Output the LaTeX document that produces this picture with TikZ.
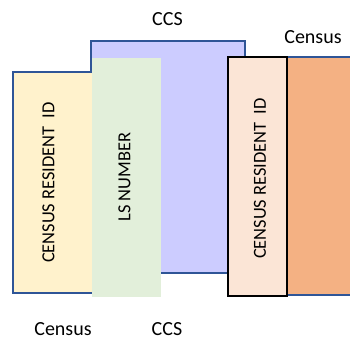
\documentclass[tikz,border=0pt]{standalone}
\usepackage{fontspec}
\setmainfont{Carlito}
\definecolor{edgeblue}{RGB}{47,85,151}
\definecolor{ccsfill}{RGB}{204,204,255}
\definecolor{yellowfill}{RGB}{255,242,204}
\definecolor{greenfill}{RGB}{226,239,218}
\definecolor{orangefill}{RGB}{244,177,131}
\definecolor{pinkfill}{RGB}{251,229,214}
\begin{document}
\begin{tikzpicture}[x=1pt,y=-1pt,
  tablebox/.style={draw=edgeblue,line width=2pt},
  coltext/.style={rotate=90,inner sep=0pt,font=\fontsize{18.4}{22}\selectfont},
  caption/.style={anchor=base,inner sep=0pt,font=\fontsize{20}{24}\selectfont}]
\useasboundingbox (0,0) rectangle (350,338);
% CCS table
\path[tablebox,fill=ccsfill] (91,41) rectangle (245,273);
% Census table (left)
\path[tablebox,fill=yellowfill] (13,72) rectangle (150,293);
% LS number column
\fill[greenfill] (92,58) rectangle (161,297);
% Census table (right)
\path[tablebox,fill=orangefill] (230,57) rectangle (360,295);
% Census resident ID column of the right table
\path[draw=black,line width=2pt,fill=pinkfill] (228,57) rectangle (287,296);
% column headings
\node[coltext] (cridleft) at (48.5,182.5) {CENSUS RESIDENT\ \ ID};
\node[coltext] (lsnum) at (124.5,177) {LS NUMBER};
\node[coltext] (cridright) at (260,178.5) {CENSUS RESIDENT\ \ ID};
% table captions
\node[caption] (ccstop) at (167.5,25) {CCS};
\node[caption] (censustop) at (313,43) {Census};
\node[caption] (censusbot) at (63,335) {Census};
\node[caption] (ccsbot) at (167,335) {CCS};
\end{tikzpicture}
\end{document}
